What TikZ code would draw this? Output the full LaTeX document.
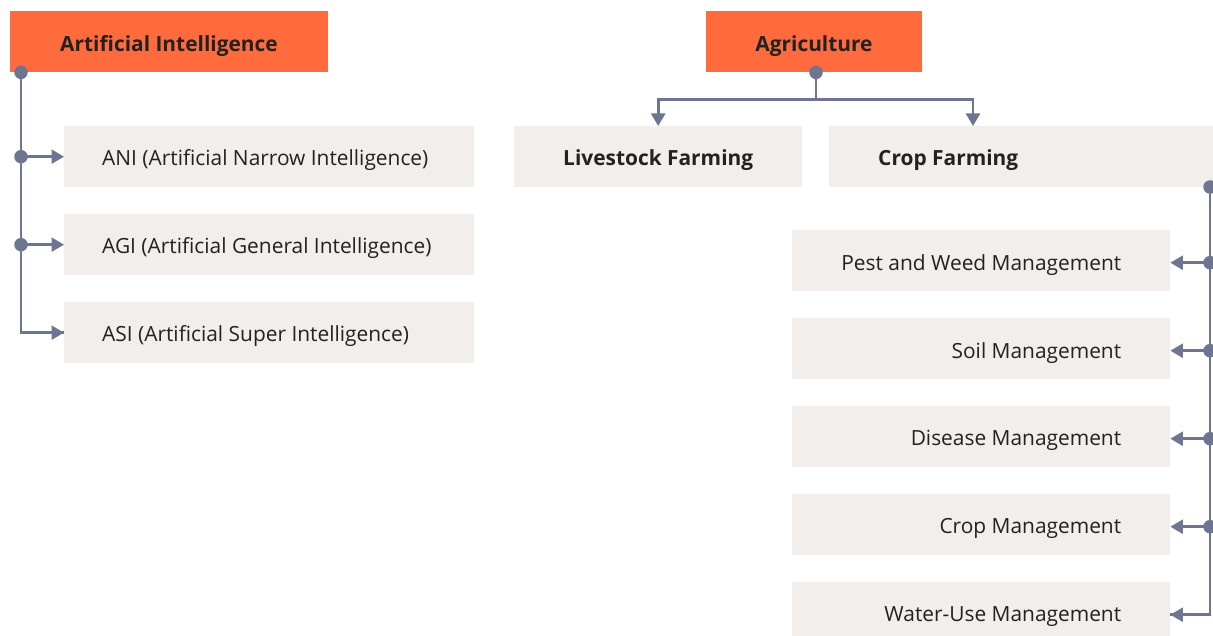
\documentclass[tikz,border=0pt]{standalone}
\usepackage{fontspec}
\setmainfont[Ligatures={NoCommon}]{Open Sans}
\usetikzlibrary{arrows.meta,calc}
\definecolor{hdr}{HTML}{FF6B3D}
\definecolor{boxbg}{HTML}{F1EEEB}
\definecolor{conn}{HTML}{6E7591}
\definecolor{txt}{HTML}{222222}
\newcommand{\fnt}{\fontsize{20.9}{25}\selectfont}
\begin{document}
\begin{tikzpicture}[x=1pt,y=-1pt,
  hdrbox/.style={fill=hdr,inner sep=0pt},
  itembox/.style={fill=boxbg,inner sep=0pt},
  lbl/.style={text=txt,font=\fnt,inner sep=0pt},
  blbl/.style={text=txt,font=\fnt\bfseries,inner sep=0pt},
  connline/.style={draw=conn,line width=2.6pt},
  arr/.style={connline,-{Triangle[length=12.5pt,width=14pt]}},
  dot/.style={circle,fill=conn,inner sep=0pt,minimum size=13.5pt}]
\useasboundingbox (0,0) rectangle (1213,636);
\clip (0,0) rectangle (1213,636);
% headers
\node[hdrbox,minimum width=318pt,minimum height=61pt,anchor=north west] (ai) at (10,11) {};
\node[blbl] (ait) at (169,46) {Artificial Intelligence};
\node[hdrbox,minimum width=216pt,minimum height=61pt,anchor=north west] (ag) at (706,11) {};
\node[blbl] (agt) at (814,46) {Agriculture};
% AI items
\node[itembox,minimum width=410pt,minimum height=61pt,anchor=north west] (ani) at (64,126) {};
\node[itembox,minimum width=410pt,minimum height=61pt,anchor=north west] (agi) at (64,214) {};
\node[itembox,minimum width=410pt,minimum height=61pt,anchor=north west] (asi) at (64,302) {};
\node[lbl,anchor=west] (anit) at (102,160) {ANI (Artificial Narrow Intelligence)};
\node[lbl,anchor=west] (agit) at (102,248) {AGI (Artificial General Intelligence)};
\node[lbl,anchor=west] (asit) at (102,336) {ASI (Artificial Super Intelligence)};
% Agriculture items
\node[itembox,minimum width=288pt,minimum height=61pt,anchor=north west] (live) at (514,126) {};
\node[itembox,minimum width=390pt,minimum height=61pt,anchor=north west] (crop) at (829,126) {};
\node[blbl,anchor=west] (livet) at (563,160) {Livestock Farming};
\node[blbl,anchor=west] (cropt) at (878,160) {Crop Farming};
\foreach \n/\y/\t in {pest/230/Pest and Weed Management,soil/318/Soil Management,dis/406/Disease Management,cm/494/Crop Management,water/582/Water-Use Management}{
  \node[itembox,minimum width=378pt,minimum height=61pt,anchor=north west] (\n) at (792,\y) {};
  \node[lbl,anchor=east] (\n t) at ($(\n.east)+(-49,4)$) {\t};
}
% AI connectors
\coordinate (aid) at ($(ai.south west)+(11,0)$);
\draw[connline] (aid) |- ($(asi.west)$);
\draw[arr] (aid |- asi.west) -- (asi.west);
\draw[arr] (aid |- ani.west) -- (ani.west);
\draw[arr] (aid |- agi.west) -- (agi.west);
\node[dot] (d1) at (aid) {};
\node[dot] (d2) at (aid |- ani.west) {};
\node[dot] (d3) at (aid |- agi.west) {};
% Agriculture connectors
\coordinate (agd) at ($(ag.south west)+(110,0)$);
\coordinate (agj) at ($(agd)+(0,27)$);
\coordinate (livetop) at (live.north);
\coordinate (croptop) at ($(crop.north west)+(144,0)$);
\draw[connline] (agd) -- (agj);
\draw[arr] (agj) -| (livetop);
\draw[arr] (agj) -| (croptop);
\node[dot] (d4) at (agd) {};
% Crop connectors
\coordinate (cd) at (1210,187);
\draw[connline] (cd) |- ($(water.east)+(0,2)$);
\foreach \n in {pest,soil,dis,cm,water}{
  \draw[arr] (cd |- \n.east) ++(0,2) -- ($(\n.east)+(0,2)$);
}
\foreach \n in {pest,soil,dis,cm}{
  \node[dot] at ($(cd |- \n.east)+(0,2)$) {};
}
\node[dot] (d5) at (cd) {};
\end{tikzpicture}
\end{document}
